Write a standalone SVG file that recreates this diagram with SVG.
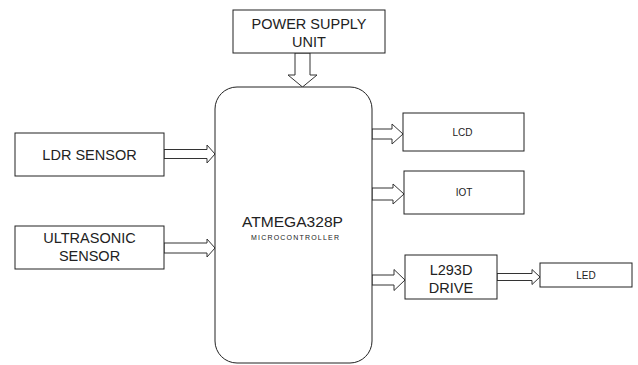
<svg xmlns="http://www.w3.org/2000/svg" width="638" height="365" viewBox="0 0 638 365">
<style>
.box{fill:#fff;stroke:#222;stroke-width:1}
.arr{fill:#fff;stroke:#333;stroke-width:1}
text{font-family:"Liberation Sans","Open Sans",sans-serif;fill:#222;text-anchor:middle}
.big{font-size:14.5px}
.sm{font-size:10px}
</style>
<rect width="638" height="365" fill="#fff"/>
<g id="connectors">
<polygon class="arr" points="295,53 310,53 310,75 317,75 302.5,87 288,75 295,75"/>
<polygon class="arr" points="164,149.5 207,149.5 207,145 215,154 207,163 207,158.5 164,158.5"/>
<polygon class="arr" points="164,243 207,243 207,239 215,248 207,257 207,253 164,253"/>
<polygon class="arr" points="372,129 392,129 392,124 403,134 392,144 392,139 372,139"/>
<polygon class="arr" points="372,188 393,188 393,184 404,194 393,204 393,200 372,200"/>
<polygon class="arr" points="372,275 394,275 394,269.5 405,280 394,290.5 394,285 372,285"/>
<polygon class="arr" points="497,273.5 532,273.5 532,269.5 540,277 532,284.5 532,280.5 497,280.5"/>
</g>
<g id="power">
<rect class="box" x="233" y="10" width="152" height="43"/>
<text class="big" x="309" y="29">POWER SUPPLY</text>
<text class="big" x="309" y="46.5">UNIT</text>
</g>
<g id="mcu">
<rect class="box" x="215" y="87" width="157" height="276" rx="22" ry="22"/>
<text x="292.5" y="227" style="font-size:14px" textLength="101" lengthAdjust="spacingAndGlyphs">ATMEGA328P</text>
<text x="295" y="239.5" style="font-size:7px" textLength="88" lengthAdjust="spacing">MICROCONTROLLER</text>
</g>
<g id="ldr">
<rect class="box" x="15" y="133" width="149" height="43"/>
<text class="big" x="89.5" y="160">LDR SENSOR</text>
</g>
<g id="ultrasonic">
<rect class="box" x="15" y="226" width="149" height="43"/>
<text class="big" x="89.5" y="243">ULTRASONIC</text>
<text class="big" x="89.5" y="261">SENSOR</text>
</g>
<g id="lcd">
<rect class="box" x="403" y="113" width="121" height="38"/>
<text class="sm" x="462.5" y="136">LCD</text>
</g>
<g id="iot">
<rect class="box" x="404" y="171" width="120" height="43"/>
<text class="sm" x="464" y="196">IOT</text>
</g>
<g id="l293d">
<rect class="box" x="405" y="255" width="92" height="44"/>
<text class="big" x="451" y="275">L293D</text>
<text class="big" x="451" y="292.5">DRIVE</text>
</g>
<g id="led">
<rect class="box" x="540" y="263" width="92" height="24"/>
<text class="sm" x="586" y="279">LED</text>
</g>
</svg>
